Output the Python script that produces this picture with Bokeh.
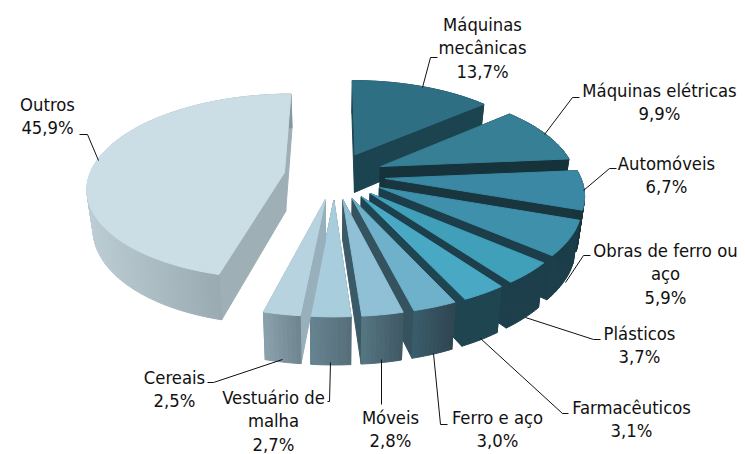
import numpy as np
from bokeh.core.properties import value
from bokeh.embed import file_html
from bokeh.models import Range1d
from bokeh.plotting import figure
from bokeh.resources import INLINE

# ---- data ----
categories = ["Máquinas mecânicas", "Máquinas elétricas", "Automóveis", "Obras de ferro ou aço",
              "Plásticos", "Farmacêuticos", "Ferro e aço", "Móveis", "Vestuário de malha",
              "Cereais", "Outros"]
values = [13.7, 9.9, 6.7, 5.9, 3.7, 3.1, 3.0, 2.8, 2.7, 2.5, 45.9]

# ---- style ----
top_colors = ["#2f6f84", "#367f95", "#3a88a3", "#3e90ab", "#409fb9", "#49a8c4",
              "#6fb0cb", "#8fc0d5", "#a8cddc", "#b8d3e0", "#cbdee6"]
cut_colors = ["#1c4450", "#16323b", "#19363f", "#1c3e4a", "#1c3f4b", "#1f4550",
              "#35525f", "#3b5a67", "#4f6b77", "#98b0bb", "#9fafb6"]
wall_left = ["#1c4450", "#16323b", "#19363f", "#1c3e4a", "#1c3f4b", "#1f4550",
             "#3a5d6b", "#557682", "#668490", "#8ba2ac", "#bccdd4"]
wall_right = ["#1c4450", "#16323b", "#19363f", "#1c3e4a", "#1c3f4b", "#1f4550",
              "#2f4552", "#3f5864", "#566e79", "#6e8590", "#87979e"]

# ---- projection parameters ----
CX, CY, RX, RY, PERSP, DEPTH, TAPER, EXPLODE = 334, 175, 195, 91, 0.15, 39, 0.025, 0.26
draw_order = [0, 10, 1, 2, 3, 4, 5, 6, 7, 8, 9]


def project(gx, gy, low=False):
    s = 1 / (1 - PERSP * gy)
    x = CX + RX * gx * s
    y = CY + RY * gy * s
    if low:
        x = CX + (x - CX) * (1 - TAPER)
        y = y + DEPTH * s
    return x, y


def mix(a, b, t):
    ca = [int(a[i:i + 2], 16) for i in (1, 3, 5)]
    cb = [int(b[i:i + 2], 16) for i in (1, 3, 5)]
    return "#%02x%02x%02x" % tuple(round(u + (v - u) * t) for u, v in zip(ca, cb))


polys_x, polys_y, polys_c = [], [], []


def add(xs, ys, c):
    polys_x.append(list(xs))
    polys_y.append(list(ys))
    polys_c.append(c)


total = sum(values)
edges = np.cumsum([0] + values) / total * 2 * np.pi
for i in draw_order:
    a0, a1 = edges[i], edges[i + 1]
    mid = (a0 + a1) / 2
    ox, oy = EXPLODE * np.sin(mid), -EXPLODE * np.cos(mid)
    ang = np.linspace(a0, a1, max(8, int((a1 - a0) * 60)))
    gx = ox + np.sin(ang)
    gy = oy - np.cos(ang)
    tx, ty = project(gx, gy)
    bx, by = project(gx, gy, True)
    ax, ay = project(ox, oy)
    abx, aby = project(ox, oy, True)
    # cut walls
    for k in (0, -1):
        add([ax, tx[k], bx[k], abx], [ay, ty[k], by[k], aby], cut_colors[i])
    # rim, shaded left to right in small strips
    xmin, xmax = tx.min(), tx.max()
    for j in range(len(ang) - 1):
        t = ((tx[j] + tx[j + 1]) / 2 - xmin) / max(xmax - xmin, 1)
        add([tx[j], tx[j + 1], bx[j + 1], bx[j]], [ty[j], ty[j + 1], by[j + 1], by[j]],
            mix(wall_left[i], wall_right[i], t))
    # top face
    add([ax, *tx], [ay, *ty], top_colors[i])

p = figure(width=745, height=454, x_range=Range1d(0, 745), y_range=Range1d(454, 0),
           x_axis_type=None, y_axis_type=None, toolbar_location=None, output_backend="svg",
           min_border=0, outline_line_color=None, background_fill_color="white")
p.grid.visible = False
p.patches(polys_x, polys_y, fill_color=polys_c, line_color=polys_c, line_width=1)

# ---- leader lines and labels (layout) ----
leaders = [
    ([422, 430, 437], [87, 57, 57]),
    ([544, 572, 579], [134, 97, 97]),
    ([583, 609, 616], [190, 168, 168]),
    ([565, 583, 590], [282, 255, 255]),
    ([525, 593, 600], [317, 339, 339]),
    ([480, 562, 568], [338, 413, 413]),
    ([433, 440, 447], [353, 424, 424]),
    ([381, 381], [359, 404]),
    ([330, 329, 327], [362, 401, 401]),
    ([282, 213, 207], [359, 382, 382]),
    ([98, 87, 79], [160, 134, 134]),
]
p.multi_line([l[0] for l in leaders], [l[1] for l in leaders], line_color="#111111", line_width=1)

label_x = [482, 659, 666, 665, 639, 631, 497, 390, 273, 174, 47]
label_y = [24, 90, 163, 250, 333, 407, 417, 417, 397, 377, 104]
wrapped = [["Máquinas", "mecânicas"], ["Máquinas elétricas"], ["Automóveis"],
           ["Obras de ferro ou", "aço"], ["Plásticos"], ["Farmacêuticos"], ["Ferro e aço"],
           ["Móveis"], ["Vestuário de", "malha"], ["Cereais"], ["Outros"]]
LINE = 23.4
tx_, ty_, tt_ = [], [], []
for i, lines in enumerate(wrapped):
    rows = lines + [f"{values[i]:.1f}".replace(".", ",") + "%"]
    for n, row in enumerate(rows):
        tx_.append(label_x[i])
        ty_.append(label_y[i] + n * LINE)
        tt_.append(row)
p.text(tx_, ty_, text=tt_, text_font=value("DejaVu Sans Condensed"), text_font_size="18.3px",
       text_color="#111111", text_align="center", text_baseline="middle")

open("out.html", "w").write(file_html(p, INLINE))
